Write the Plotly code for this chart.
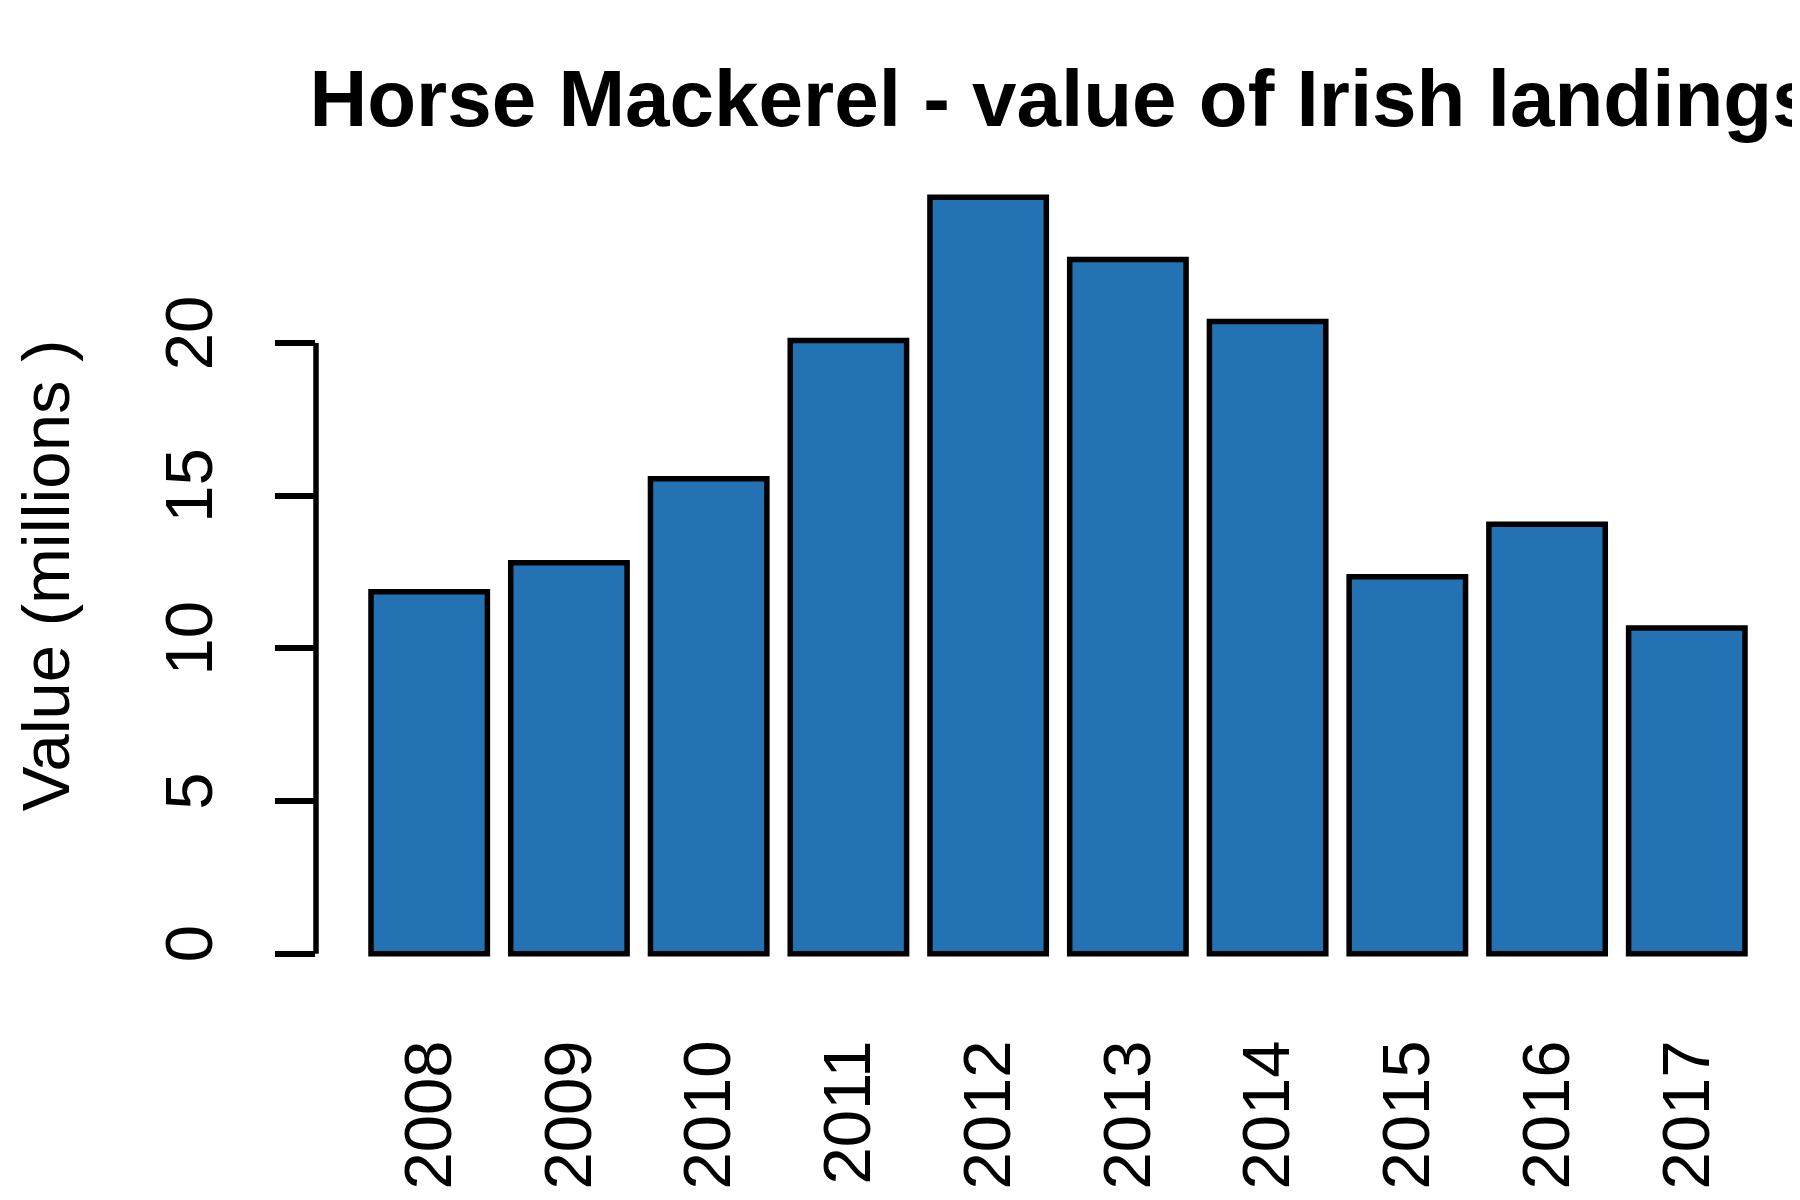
import plotly.graph_objects as go

years = ["2008", "2009", "2010", "2011", "2012", "2013", "2014", "2015", "2016", "2017"]
values = [11.85, 12.8, 15.55, 20.08, 24.77, 22.73, 20.70, 12.34, 14.06, 10.67]
y_ticks = [0, 5, 10, 15, 20]
y_tick_labels = ["0", "5", "10", "15", "20"]

title_text = "Horse Mackerel - value of Irish landings"
y_title = "Value (millions )"

FONT = "Arial, Liberation Sans, sans-serif"
ymax = max(values)

fig = go.Figure()
fig.add_trace(go.Bar(
    x=years, y=values,
    marker=dict(color="#2272B4", line=dict(color="black", width=5.5)),
    showlegend=False,
))

fig.update_layout(
    width=1800, height=1200,
    paper_bgcolor="white", plot_bgcolor="white",
    margin=dict(l=308, r=8, t=159, b=224, autoexpand=False),
    bargap=0.167,
    title=dict(text="<b>" + title_text + "</b>", x=0.5034, xref="paper",
               y=0.925, yref="container", yanchor="middle",
               font=dict(family=FONT, size=80, color="black")),
    xaxis=dict(type="category", range=[-0.81, 9.81], showline=False, showgrid=False,
               zeroline=False, ticks="", tickangle=-90, ticklabelstandoff=42,
               tickfont=dict(family=FONT, size=67, color="black")),
    yaxis=dict(range=[-0.04 * ymax, 1.04 * ymax], tickmode="array", tickvals=y_ticks,
               ticktext=y_tick_labels, ticks="outside", ticklen=40, tickwidth=5.5,
               tickcolor="black", showline=False, showgrid=False, zeroline=False,
               tickangle=-90, ticklabelstandoff=36,
               tickfont=dict(family=FONT, size=67, color="black"),
               title=dict(text=y_title, standoff=108,
                          font=dict(family=FONT, size=67, color="black")),
               automargin=True),
    shapes=[dict(type="line", xref="paper", yref="y", x0=0, x1=0,
                 y0=y_ticks[0], y1=y_ticks[-1],
                 line=dict(color="black", width=5.5))],
)

fig.write_html("out.html")
